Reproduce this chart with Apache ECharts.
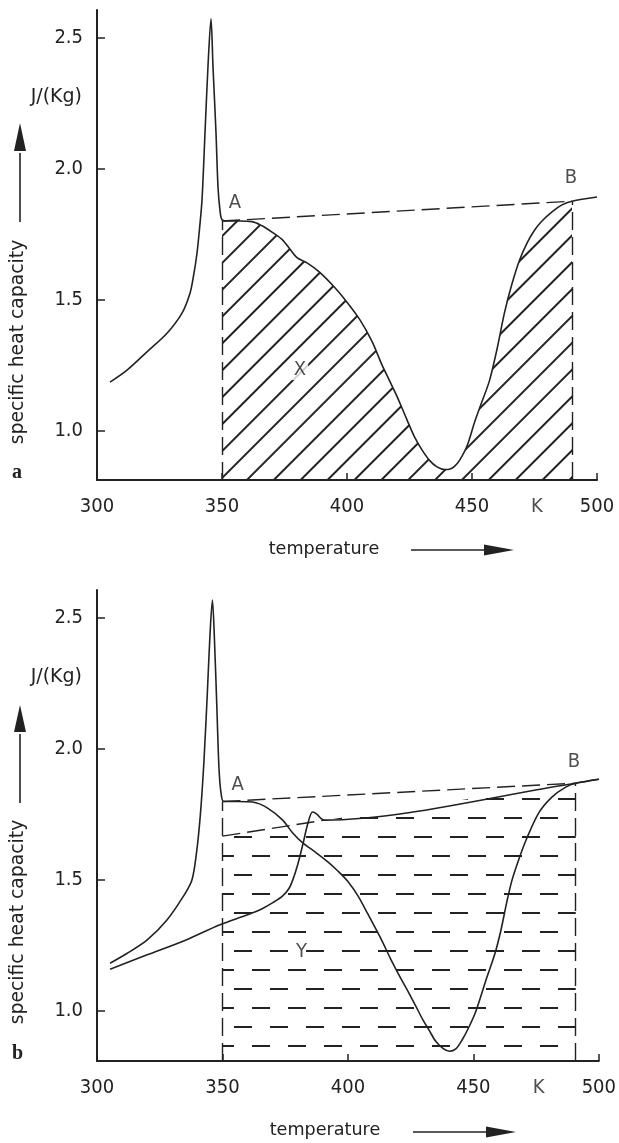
<!DOCTYPE html>
<html><head><meta charset="utf-8">
<script src="https://cdn.jsdelivr.net/npm/echarts@6/dist/echarts.min.js"></script>
<style>html,body{margin:0;padding:0;background:#fff}#c{width:619px;height:1143px}</style>
</head><body><div id="c"></div>
<script>
const FONT_NUM = "'DejaVu Sans Condensed','DejaVu Sans',sans-serif";
const FONT_TXT = "'DejaVu Sans',sans-serif";
const INK = '#222';

// ---- data ----
const xTicks = [300, 350, 400, 450, 500];
const yTicks = [1.0, 1.5, 2.0, 2.5];
const yRange = [0.81, 2.607];

// chart a: measured specific heat capacity (T in K, cp)
const curveA = [
[305.2,1.184],[312,1.23],[320,1.30],[328,1.371],[334,1.448],[337.2,1.524],[338.6,1.59],[340,1.677],[341,1.77],[342,1.88],[343.2,2.137],[344.4,2.393],[345.6,2.573],[346.4,2.39],[347.6,2.137],[348.4,1.93],[349.2,1.84],[350,1.805],[352,1.80],[357,1.80],[362,1.798],[366,1.782],[370,1.758],[374,1.73],[377,1.695],[380,1.66],[384,1.64],[389,1.605],[395,1.547],[400,1.49],[405,1.425],[410,1.34],[414,1.25],[417,1.19],[420,1.13],[424,1.04],[427,0.975],[430,0.925],[433,0.885],[436,0.86],[439,0.85],[441,0.851],[443,0.862],[445,0.885],[448,0.94],[451,1.03],[454,1.11],[457,1.19],[460,1.31],[463,1.45],[466,1.56],[469,1.65],[472,1.716],[475,1.765],[478,1.80],[482,1.835],[486,1.862],[490,1.876],[500,1.892]
];
const pointA_a = [350, 1.80];
const pointB_a = [490, 1.876];

// chart b: first run and second run
const curveB1 = [
[305.2,1.183],[311.9,1.22],[319.9,1.271],[327.8,1.347],[334.2,1.435],[337.8,1.5],[339.6,1.6],[341.2,1.75],[342.6,1.95],[344,2.22],[345,2.43],[346,2.569],[346.8,2.42],[347.8,2.15],[348.6,1.93],[349.4,1.835],[350.5,1.80],[356,1.80],[362,1.798],[368,1.775],[374,1.729],[378,1.68],[382,1.642],[387,1.607],[392,1.57],[396,1.535],[400,1.495],[404,1.44],[408,1.37],[413,1.28],[417,1.2],[420.8,1.13],[424,1.075],[427,1.02],[430,0.965],[432.4,0.927],[435,0.885],[438,0.857],[440.5,0.847],[443,0.856],[445.5,0.89],[448,0.935],[451,1.0],[455,1.118],[458.6,1.22],[461,1.31],[463.4,1.42],[465.4,1.5],[468,1.576],[471,1.653],[476,1.756],[481.3,1.817],[486.8,1.855],[490.8,1.87],[500,1.885]
];
const curveB2 = [
[305.2,1.16],[320,1.215],[335,1.27],[349,1.33],[360,1.368],[366,1.392],[370.4,1.416],[374,1.44],[376.5,1.468],[378,1.5],[380,1.56],[382,1.635],[384,1.715],[385.9,1.76],[387.6,1.752],[389.2,1.736],[390.6,1.729],[490.8,1.87],[500,1.885]
];
const baselineB = [[350,1.668],[390.6,1.729],[490.8,1.87]];
const pointA_b = [350, 1.80];
const pointB_b = [490.8, 1.87];

const labelsA = [['A',355.2,1.869],['B',489.6,1.964],['X',381.2,1.23]];
const labelsB = [['A',356.1,1.863],['B',490.1,1.95],['Y',381.5,1.225]];
const unitK = 476;

// ---- chart ----
const chart = echarts.init(document.getElementById('c'), null, {renderer:'canvas'});

function xAxis(gi){
  return {type:'value', gridIndex:gi, min:xTicks[0], max:xTicks[xTicks.length-1], interval:50,
    axisLine:{show:true, lineStyle:{color:INK, width:2}},
    axisTick:{show:true, inside:true, length:7, lineStyle:{color:INK, width:1.5}},
    axisLabel:{color:INK, fontSize:20, fontFamily:FONT_NUM, margin:17},
    splitLine:{show:false}};
}
function yAxis(gi){
  return {type:'value', gridIndex:gi, min:yRange[0], max:yRange[1],
    axisLine:{show:true, lineStyle:{color:INK, width:2}},
    axisTick:{show:true, inside:true, length:8, customValues:yTicks, lineStyle:{color:INK, width:1.5}},
    axisLabel:{show:true, customValues:yTicks, formatter:v=>v.toFixed(1), color:INK, fontSize:20, fontFamily:FONT_NUM, margin:14},
    splitLine:{show:false}};
}
const dashed = {color:INK, width:1.4, type:[18,7]};
function solid(gi, data, z){
  return {type:'line', xAxisIndex:gi, yAxisIndex:gi, data, symbol:'none', smooth:0.3,
    lineStyle:{color:INK, width:1.6}, z:z||3, silent:true};
}
function vlines(A, B){
  return {silent:true, symbol:['none','none'], label:{show:false}, lineStyle:dashed, animation:false,
    data:[[{coord:[A[0], yRange[0]]},{coord:A}], [{coord:[B[0], yRange[0]]},{coord:B}]]};
}
function labelSeries(gi, labels){
  return {type:'scatter', xAxisIndex:gi, yAxisIndex:gi, symbolSize:0, silent:true, z:6,
    data: labels.map(l=>({name:l[0], value:[l[1], l[2]],
      label:{backgroundColor: (l[0]==='X') ? '#fff' : 'transparent', padding:[0,2]}})),
    label:{show:true, position:'inside', formatter:'{b}', color:INK, fontSize:20, fontFamily:FONT_NUM}};
}
function kSeries(gi){
  return {type:'scatter', xAxisIndex:gi, yAxisIndex:gi, symbolSize:0, silent:true, z:6,
    data:[{name:'K', value:[unitK, yRange[0]]}],
    label:{show:true, position:'inside', offset:[0,27], formatter:'{b}', color:INK, fontSize:20, fontFamily:FONT_NUM}};
}

const hatchDiag = {symbol:'rect', symbolSize:1, color:INK, dashArrayX:[[1,0]], dashArrayY:[1.25,16.5], rotation:-Math.PI/4};
const hatchDash = {symbol:'rect', symbolSize:1, color:INK, dashArrayX:[[18,18],[0,18,18,0]], dashArrayY:[1.4,16.4], rotation:0};

const areaX = curveA.filter(p => p[0] >= pointA_a[0] && p[0] <= pointB_a[0]);

function textG(text, x, y, size, opts){
  return Object.assign({type:'text', x, y, silent:true,
    style:{text, fill:INK, fontSize:size, fontFamily:FONT_TXT, textAlign:'center', textVerticalAlign:'middle'}}, opts||{});
}
function rightText(text, x, y, size){
  return {type:'text', x, y, silent:true,
    style:{text, fill:INK, fontSize:size, fontFamily:FONT_TXT, textAlign:'right', textVerticalAlign:'middle'}};
}
function arrowUp(x, yBottom, yBase, yTip){
  return [
    {type:'line', silent:true, shape:{x1:x, y1:yBottom, x2:x, y2:yBase+2}, style:{stroke:INK, lineWidth:1.6}},
    {type:'polygon', silent:true, shape:{points:[[x-6,yBase],[x+6,yBase],[x,yTip]]}, style:{fill:INK}}
  ];
}
function arrowRight(y, xStart, xBase, xTip){
  return [
    {type:'line', silent:true, shape:{x1:xStart, y1:y, x2:xBase+2, y2:y}, style:{stroke:INK, lineWidth:1.6}},
    {type:'polygon', silent:true, shape:{points:[[xBase,y-5.5],[xBase,y+5.5],[xTip,y]]}, style:{fill:INK}}
  ];
}
function panelLetter(t, y){
  return {type:'text', x:12, y, silent:true, style:{text:t, fill:INK, fontSize:20, fontWeight:'bold', fontFamily:"'Liberation Serif','DejaVu Serif',serif", textVerticalAlign:'middle'}};
}

const graphics = [
  rightText('J/(Kg)', 82, 97, 19),
  rightText('J/(Kg)', 82, 677, 19),
  textG('specific heat capacity', 18, 342, 18.8, {rotation:Math.PI/2}),
  textG('specific heat capacity', 18, 922, 18.8, {rotation:Math.PI/2}),
  ...arrowUp(20, 222, 151, 123),
  ...arrowUp(20, 803, 732, 705),
  textG('temperature', 324, 549, 17.6),
  textG('temperature', 325, 1130, 17.6),
  ...arrowRight(550, 411, 484, 514),
  ...arrowRight(1132, 413, 486, 516),
  panelLetter('a', 473),
  panelLetter('b', 1054)
];

chart.setOption({
  animation:false,
  backgroundColor:'#fff',
  grid:[
    {left:97, top:10, right:22, height:470},
    {left:97, top:590, right:19, height:471}
  ],
  xAxis:[xAxis(0), xAxis(1)],
  yAxis:[yAxis(0), yAxis(1)],
  graphic:graphics,
  series:[
    // chart a
    {type:'line', xAxisIndex:0, yAxisIndex:0, data:areaX, symbol:'none', smooth:0.3, silent:true, z:1,
      lineStyle:{width:0, color:'rgba(0,0,0,0)', decal:hatchDiag}, itemStyle:{decal:hatchDiag},
      areaStyle:{color:'rgba(0,0,0,0)', opacity:1, origin:'start'}},
    solid(0, curveA),
    {type:'line', xAxisIndex:0, yAxisIndex:0, data:[pointA_a, pointB_a], symbol:'none', lineStyle:dashed, silent:true, z:2,
      markLine:vlines(pointA_a, pointB_a)},
    labelSeries(0, labelsA),
    kSeries(0),
    // chart b
    {type:'line', xAxisIndex:1, yAxisIndex:1, data:baselineB, symbol:'none', silent:true, z:1,
      lineStyle:{width:0, color:'rgba(0,0,0,0)', decal:hatchDash}, itemStyle:{decal:hatchDash},
      areaStyle:{color:'rgba(0,0,0,0)', opacity:1, origin:'start'}},
    solid(1, curveB1),
    solid(1, curveB2),
    {type:'line', xAxisIndex:1, yAxisIndex:1, data:[pointA_b, pointB_b], symbol:'none', lineStyle:dashed, silent:true, z:2,
      markLine:vlines(pointA_b, pointB_b)},
    {type:'line', xAxisIndex:1, yAxisIndex:1, data:baselineB.slice(0,2), symbol:'none', lineStyle:dashed, silent:true, z:2},
    labelSeries(1, labelsB),
    kSeries(1)
  ]
});
</script>
</body></html>
